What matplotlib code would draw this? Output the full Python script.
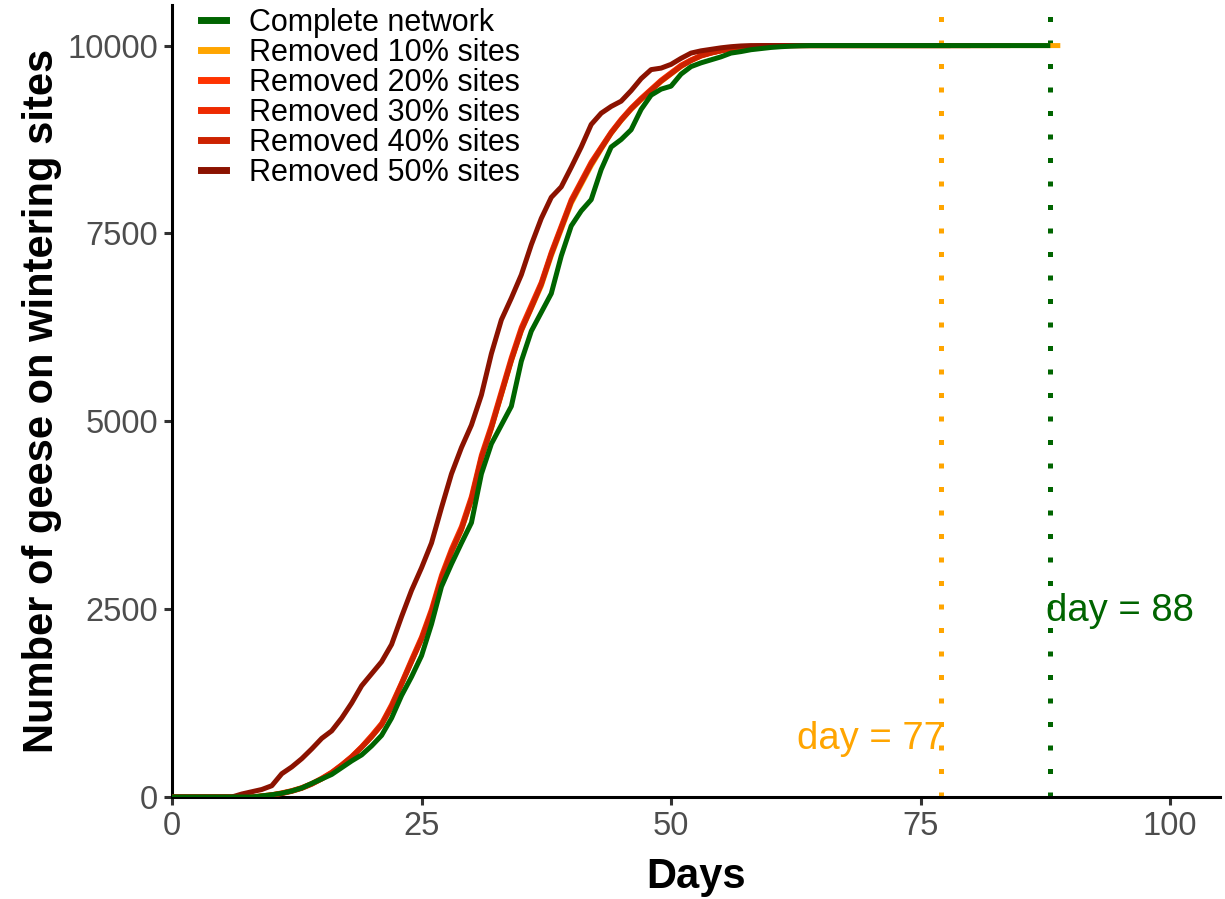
import matplotlib
matplotlib.use("Agg")
import matplotlib.pyplot as plt
from matplotlib.lines import Line2D

plt.rcParams['font.family'] = ['Liberation Sans', 'DejaVu Sans']

# ---------------- data ----------------
days_rise = list(range(0, 65))

complete = [0, 0, 0, 0, 0, 0, 0, 0, 0, 15,
            30, 50, 80, 120, 180, 240, 300, 390, 480, 560,
            680, 820, 1050, 1350, 1600, 1880, 2300, 2800, 3100, 3380,
            3650, 4300, 4700, 4950, 5200, 5800, 6200, 6450, 6700, 7200,
            7600, 7800, 7950, 8350, 8650, 8750, 8880, 9150, 9340, 9420,
            9460, 9620, 9720, 9770, 9810, 9850, 9900, 9920, 9945, 9960,
            9975, 9985, 9992, 9997, 10000]
removed10 = [0, 0, 0, 0, 0, 0, 0, 0, 0, 15,
             30, 50, 80, 120, 175, 240, 320, 420, 530, 660,
             800, 960, 1200, 1500, 1800, 2100, 2450, 2900, 3250, 3550,
             3950, 4500, 4900, 5350, 5800, 6200, 6500, 6800, 7200, 7550,
             7900, 8150, 8400, 8620, 8830, 9000, 9150, 9280, 9400, 9520,
             9620, 9720, 9800, 9860, 9900, 9930, 9955, 9970, 9985, 9993,
             10000, 10000, 10000, 10000, 10000]
removed20 = [0, 0, 0, 0, 0, 0, 0, 0, 0, 15,
             30, 55, 85, 125, 180, 250, 330, 430, 540, 670,
             820, 980, 1230, 1520, 1830, 2130, 2500, 2950, 3300, 3600,
             4000, 4550, 4950, 5400, 5850, 6250, 6550, 6850, 7250, 7600,
             7950, 8200, 8450, 8650, 8850, 9020, 9170, 9300, 9420, 9540,
             9640, 9740, 9810, 9870, 9905, 9935, 9958, 9972, 9986, 9994,
             10000, 10000, 10000, 10000, 10000]
removed30 = [0, 0, 0, 0, 0, 0, 0, 0, 0, 10,
             25, 50, 80, 120, 175, 245, 325, 425, 535, 665,
             810, 970, 1210, 1510, 1810, 2110, 2470, 2920, 3270, 3570,
             3970, 4520, 4920, 5370, 5820, 6220, 6520, 6830, 7230, 7580,
             7930, 8180, 8430, 8640, 8840, 9010, 9160, 9290, 9410, 9530,
             9630, 9730, 9805, 9865, 9902, 9932, 9956, 9971, 9985, 9993,
             10000, 10000, 10000, 10000, 10000]
removed40 = [0, 0, 0, 0, 0, 0, 0, 0, 0, 10,
             25, 45, 75, 115, 170, 240, 320, 420, 530, 660,
             800, 960, 1200, 1500, 1800, 2100, 2460, 2910, 3260, 3560,
             3960, 4510, 4910, 5360, 5810, 6210, 6510, 6820, 7220, 7570,
             7920, 8170, 8420, 8630, 8835, 9005, 9155, 9285, 9405, 9525,
             9625, 9725, 9800, 9862, 9900, 9930, 9955, 9970, 9985, 9993,
             10000, 10000, 10000, 10000, 10000]
removed50 = [0, 0, 0, 0, 0, 0, 0, 40, 70, 100,
             150, 310, 400, 510, 640, 780, 880, 1050, 1250, 1480,
             1640, 1800, 2030, 2400, 2750, 3050, 3380, 3850, 4300, 4650,
             4950, 5350, 5900, 6350, 6640, 6950, 7350, 7700, 7980, 8120,
             8380, 8650, 8950, 9100, 9190, 9260, 9400, 9560, 9680, 9700,
             9750, 9830, 9900, 9930, 9950, 9970, 9985, 9995, 10000, 10000,
             10000, 10000, 10000, 10000, 10000]

# last day of each simulation (plateau value 10000)
end_day = {"Complete network": 88, "Removed 10% sites": 89,
           "Removed 20% sites": 84, "Removed 30% sites": 82,
           "Removed 40% sites": 80, "Removed 50% sites": 78}
end_value = 10000

series = {
    "Complete network": complete,
    "Removed 10% sites": removed10,
    "Removed 20% sites": removed20,
    "Removed 30% sites": removed30,
    "Removed 40% sites": removed40,
    "Removed 50% sites": removed50,
}
colors = {
    "Complete network": "#006400",
    "Removed 10% sites": "#FFA500",
    "Removed 20% sites": "#FF3300",
    "Removed 30% sites": "#EE2A00",
    "Removed 40% sites": "#CC2200",
    "Removed 50% sites": "#8B1200",
}
zorders = {
    "Removed 10% sites": 2,
    "Removed 20% sites": 3,
    "Removed 30% sites": 4,
    "Removed 40% sites": 5,
    "Removed 50% sites": 6,
    "Complete network": 7,
}

vline_days = [77, 88]
vline_colors = ["#FFA500", "#006400"]
labels_text = ["day = 77", "day = 88"]
label_pos_x = [70, 95]
label_pos_y = [770, 2480]

# ---------------- plot ----------------
W, H = 1225, 899
fig = plt.figure(figsize=(W / 100, H / 100), dpi=100)
ax = fig.add_axes([172 / W, (H - 797) / H, 1048 / W, (797 - 5) / H])

lw = 3.6
for name, vals in series.items():
    x = days_rise + [end_day[name]]
    y = vals + [end_value]
    ax.plot(x, y, color=colors[name], lw=lw, zorder=zorders[name],
            solid_joinstyle='round', solid_capstyle='butt')

for d, c in zip(vline_days, vline_colors):
    ax.axvline(d, color=c, lw=3.6, ls=(0, (1, 3.7)), zorder=1)

for t, c, xx, yy in zip(labels_text, vline_colors, label_pos_x, label_pos_y):
    ax.text(xx, yy, t, color=c, fontsize=27.5, ha='center', va='center', zorder=8)

ax.set_xlim(0, 105)
ax.set_ylim(0, 10540)
ax.set_xticks([0, 25, 50, 75, 100])
ax.set_yticks([0, 2500, 5000, 7500, 10000])

for side in ['top', 'right']:
    ax.spines[side].set_visible(False)
for side in ['left', 'bottom']:
    ax.spines[side].set_linewidth(2.2)
    ax.spines[side].set_color('black')

ax.tick_params(axis='both', direction='out', length=6, width=2.2,
               color='#333333', labelsize=23.5, labelcolor='#4D4D4D', pad=4)

ax.set_xlabel("Days", fontsize=30, fontweight='bold', labelpad=11)
ax.set_ylabel("Number of geese on wintering sites", fontsize=30,
              fontweight='bold', labelpad=4)

handles = [Line2D([0], [0], color=colors[n], lw=5) for n in series]
leg = ax.legend(handles, list(series.keys()), loc='upper left',
                bbox_to_anchor=(0.028, 0.996), frameon=False, fontsize=22,
                handlelength=0.8, handletextpad=0.75, labelspacing=0.0,
                borderpad=0, borderaxespad=0)

fig.savefig("out.png", dpi=100, facecolor='white')
